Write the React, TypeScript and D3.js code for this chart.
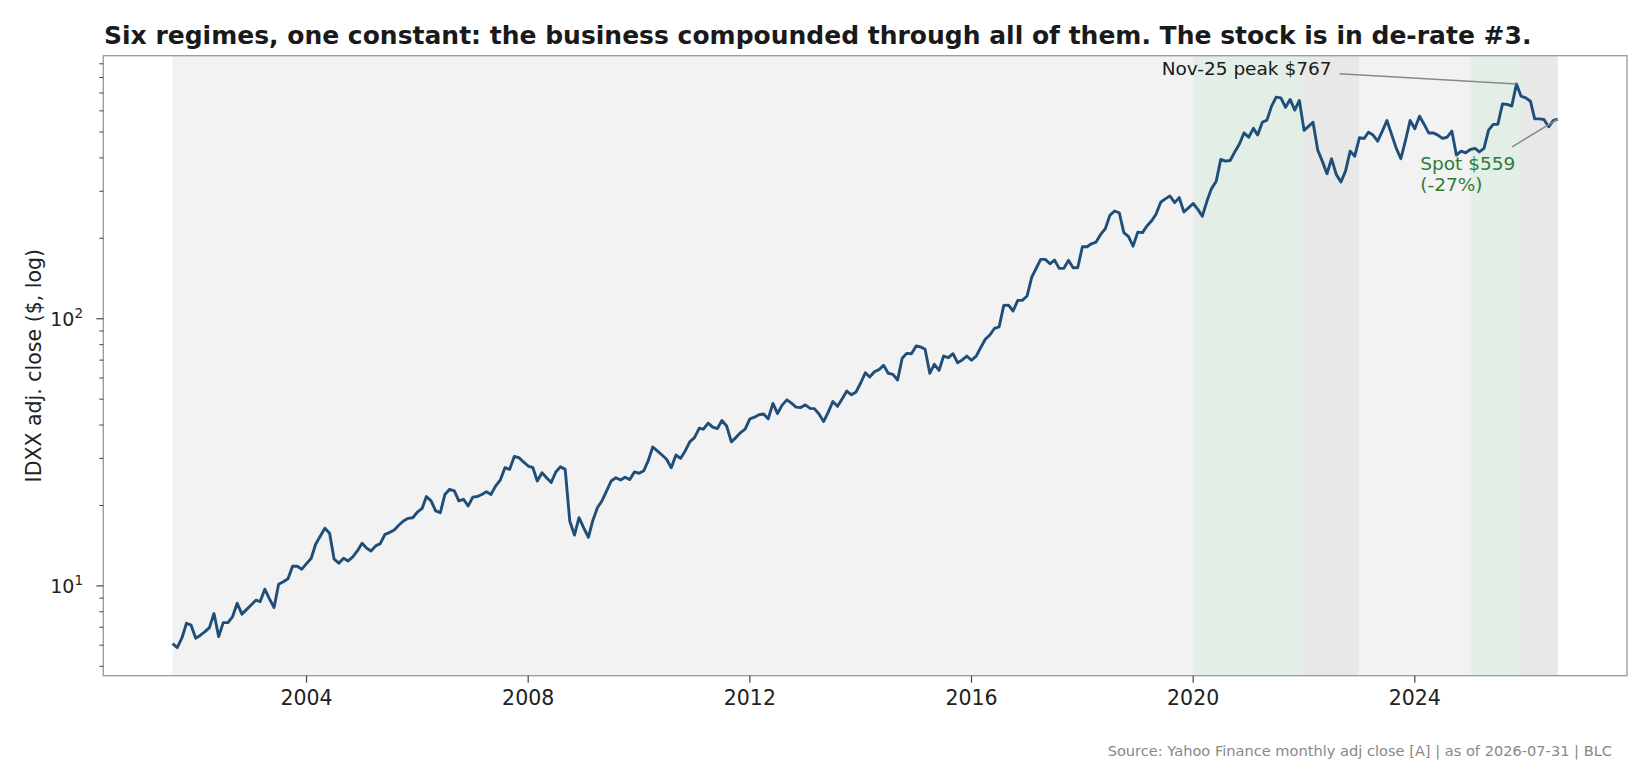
import * as React from "react";
import * as d3 from "d3";

// monthly adj. close, first value is Aug-2001 (month-start index), one per month
const firstMonth = "2001-08-01";
const closes = [
  6.08, 5.88, 6.37, 7.25, 7.13, 6.37, 6.54, 6.73, 6.98, 7.88, 6.46, 7.29,
  7.29, 7.68, 8.61, 7.84, 8.15, 8.49, 8.84, 8.73, 9.72, 8.96, 8.3, 10.15,
  10.37, 10.64, 11.85, 11.85, 11.55, 12.12, 12.69, 14.32, 15.38, 16.43, 15.75, 12.59,
  12.16, 12.69, 12.4, 12.84, 13.52, 14.45, 13.84, 13.52, 14.12, 14.39, 15.6, 15.83,
  16.2, 16.9, 17.5, 17.9, 18.0, 18.9, 19.5, 21.6, 20.8, 19.1, 18.8, 22.0,
  23.0, 22.7, 20.8, 21.1, 19.9, 21.5, 21.6, 22.0, 22.5, 22.0, 23.7, 24.9,
  27.7, 27.3, 30.5, 30.2, 29.1, 28.1, 27.7, 24.7, 26.5, 25.4, 24.4, 26.7,
  27.9, 27.3, 17.5, 15.5, 18.0, 16.5, 15.2, 17.5, 19.6, 20.8, 22.7, 24.7,
  25.4, 24.9, 25.5, 25.0, 26.7, 26.4, 27.0, 29.3, 33.1, 32.0, 30.9, 29.8,
  27.7, 30.9, 30.0, 32.0, 34.6, 35.9, 38.9, 38.6, 40.7, 39.3, 38.8, 41.6,
  39.7, 34.6, 35.9, 37.5, 38.6, 42.2, 42.8, 43.7, 44.0, 42.2, 48.2, 44.2,
  47.5, 49.7, 48.3, 46.7, 46.5, 47.6, 46.2, 46.1, 44.0, 41.2, 44.7, 49.0,
  47.0, 50.2, 53.6, 51.9, 53.2, 57.6, 62.8, 60.5, 63.3, 64.5, 66.9, 62.5,
  61.9, 59.0, 71.1, 74.2, 74.0, 79.1, 78.4, 76.9, 62.5, 67.5, 64.1, 72.5,
  71.5, 74.0, 68.5, 70.1, 72.5, 69.9, 72.5, 77.9, 83.8, 86.9, 92.1, 93.3,
  112.2, 112.5, 106.9, 117.2, 117.2, 121.6, 143.2, 153.9, 166.8, 166.8, 160.6, 165.8,
  154.4, 154.4, 165.4, 155.2, 155.2, 186.0, 186.0, 190.8, 193.6, 206.8, 217.1, 243.7,
  253, 249.3, 210, 203, 187, 211, 210, 222, 232, 246, 273, 281,
  288, 272, 284, 251, 260, 270, 256.6, 242, 275.6, 307, 327, 395,
  389, 391, 421, 451, 496, 478, 516, 487, 544, 554, 625, 675,
  671, 619, 662, 604, 656, 507, 526, 544, 428, 389, 349, 397,
  347, 325, 357, 424, 406, 476, 473, 499, 487, 462, 504, 552,
  490, 434, 397, 466, 552, 514, 573, 536, 496, 496, 487, 473,
  478, 504, 410, 424, 418, 430, 434, 421, 434, 508, 534, 534,
  637, 634, 625, 757, 681, 671, 652, 560, 560, 557, 523, 552,
];
const spotDate = "2026-07-31";
const spotClose = 559;

// six regimes (shaded spans)
const regimeStarts = ["2001-08-01", "2020-01-01", "2022-01-01", "2023-01-01", "2025-01-01", "2025-12-01"];
const regimeEnds = ["2020-01-01", "2022-01-01", "2023-01-01", "2025-01-01", "2025-12-01", "2026-07-31"];
const regimeKinds = ["base", "rerate", "derate", "base", "rerate", "derate"];
const regimeColors: Record<string, string> = { base: "#f2f2f2", rerate: "#e3eee6", derate: "#e8e8e8" };

const xTickYears = [2004, 2008, 2012, 2016, 2020, 2024];
const yMajorTicks = [10, 100];
const yMinorTicks = [5, 6, 7, 8, 9, 20, 30, 40, 50, 60, 70, 80, 90, 200, 300, 400, 500, 600, 700, 800, 900];

const titleText = "Six regimes, one constant: the business compounded through all of them. The stock is in de-rate #3.";
const yLabelText = "IDXX adj. close ($, log)";
const peakLabel = "Nov-25 peak $767";
const peakLabelAt = { date: "2022-07-01", value: 865 };
const spotLines = ["Spot $559", "(-27%)"];
const spotLabelAt = { date: "2024-02-06", value: 380 };
const sourceText = "Source: Yahoo Finance monthly adj close [A] | as of 2026-07-31 | BLC";

const W = 1650;
const H = 780;
const plot = { left: 103.3, right: 1627, top: 55.7, bottom: 675.7 };
const FONT = "'DejaVu Sans', sans-serif";
const TICK_FONT = 20.5;

function exitPoint(cx: number, cy: number, tx: number, ty: number, b: { x: number; y: number; width: number; height: number }) {
  const dx = tx - cx;
  const dy = ty - cy;
  const tX = dx > 0 ? (b.x + b.width - cx) / dx : dx < 0 ? (b.x - cx) / dx : Infinity;
  const tY = dy > 0 ? (b.y + b.height - cy) / dy : dy < 0 ? (b.y - cy) / dy : Infinity;
  const t = Math.min(tX, tY);
  return [cx + dx * t, cy + dy * t];
}

function drawChart(svgEl: SVGSVGElement) {
  const parse = d3.utcParse("%Y-%m-%d");
  const svg = d3.select(svgEl);
  svg.selectAll("*").remove();

  const start = parse(firstMonth) as Date;
  const points = closes.map((v, i) => ({ date: d3.utcMonth.offset(start, i), value: v }));
  points.push({ date: parse(spotDate) as Date, value: spotClose });

  const t0 = +points[0].date;
  const t1 = +points[points.length - 1].date;
  const span = t1 - t0;
  const x = d3
    .scaleUtc()
    .domain([new Date(t0 - 0.05 * span), new Date(t1 + 0.05 * span)])
    .range([plot.left, plot.right]);

  const lo = Math.log10(d3.min(points, (d) => d.value) as number);
  const hi = Math.log10(d3.max(points, (d) => d.value) as number);
  const pad = (hi - lo) * 0.05;
  const y = d3
    .scaleLog()
    .domain([Math.pow(10, lo - pad), Math.pow(10, hi + pad)])
    .range([plot.bottom, plot.top]);

  svg.append("rect").attr("width", W).attr("height", H).attr("fill", "#ffffff");

  // Regime spans
  svg
    .append("g")
    .selectAll("rect")
    .data(regimeStarts.map((s, i) => ({ from: parse(s) as Date, to: parse(regimeEnds[i]) as Date, kind: regimeKinds[i] })))
    .enter()
    .append("rect")
    .attr("x", (d) => x(d.from))
    .attr("width", (d) => x(d.to) - x(d.from))
    .attr("y", plot.top)
    .attr("height", plot.bottom - plot.top)
    .attr("fill", (d) => regimeColors[d.kind]);

  // Price line
  const line = d3
    .line<{ date: Date; value: number }>()
    .x((d) => x(d.date))
    .y((d) => y(d.value));
  svg
    .append("path")
    .datum(points)
    .attr("d", line)
    .attr("fill", "none")
    .attr("stroke", "#1f4e79")
    .attr("stroke-width", 2.9)
    .attr("stroke-linejoin", "round")
    .attr("stroke-linecap", "butt");

  // Frame
  svg
    .append("rect")
    .attr("x", plot.left)
    .attr("y", plot.top)
    .attr("width", plot.right - plot.left)
    .attr("height", plot.bottom - plot.top)
    .attr("fill", "none")
    .attr("stroke", "#999999")
    .attr("stroke-width", 1.3);

  // X axis ticks
  const xt = svg.append("g");
  xTickYears.forEach((yr) => {
    const px = x(new Date(Date.UTC(yr, 0, 1)));
    xt.append("line").attr("x1", px).attr("x2", px).attr("y1", plot.bottom).attr("y2", plot.bottom + 7).attr("stroke", "#444").attr("stroke-width", 1.2);
    xt.append("text")
      .attr("x", px)
      .attr("y", plot.bottom + 22)
      .attr("text-anchor", "middle")
      .attr("dominant-baseline", "central")
      .attr("font-family", FONT)
      .attr("font-size", TICK_FONT)
      .attr("fill", "#222")
      .text(String(yr));
  });

  // Y axis ticks
  const yt = svg.append("g");
  yMinorTicks.forEach((v) => {
    yt.append("line").attr("x1", plot.left - 4).attr("x2", plot.left).attr("y1", y(v)).attr("y2", y(v)).attr("stroke", "#444").attr("stroke-width", 1);
  });
  yMajorTicks.forEach((v) => {
    yt.append("line").attr("x1", plot.left - 7).attr("x2", plot.left).attr("y1", y(v)).attr("y2", y(v)).attr("stroke", "#444").attr("stroke-width", 1.2);
    const t = yt
      .append("text")
      .attr("x", 83)
      .attr("y", y(v) + 7.5)
      .attr("text-anchor", "end")
      .attr("font-family", FONT)
      .attr("font-size", 19)
      .attr("fill", "#222");
    t.append("tspan").text("10");
    t.append("tspan").attr("font-size", 13.5).attr("dy", -8.5).text(String(Math.round(Math.log10(v))));
  });

  // Y label
  svg
    .append("text")
    .attr("transform", `translate(33.7, ${(plot.top + plot.bottom) / 2}) rotate(-90)`)
    .attr("text-anchor", "middle")
    .attr("dominant-baseline", "central")
    .attr("font-family", FONT)
    .attr("font-size", TICK_FONT)
    .attr("fill", "#222")
    .text(yLabelText);

  // Title
  svg
    .append("text")
    .attr("x", 104)
    .attr("y", 35.8)
    .attr("dominant-baseline", "central")
    .attr("font-family", FONT)
    .attr("font-weight", "bold")
    .attr("font-size", 25)
    .attr("fill", "#1a1a1a")
    .text(titleText);

  // Peak annotation
  const peakIdx = d3.maxIndex(points, (d) => d.value);
  const peak = points[peakIdx];
  const peakText = svg
    .append("text")
    .attr("x", x(parse(peakLabelAt.date) as Date))
    .attr("y", y(peakLabelAt.value))
    .attr("text-anchor", "end")
    .attr("dominant-baseline", "central")
    .attr("font-family", FONT)
    .attr("font-size", 18.5)
    .attr("fill", "#1a1a1a")
    .text(peakLabel);
  const pb = (peakText.node() as SVGTextElement).getBBox();
  const pbox = { x: pb.x - 8, y: pb.y - 4, width: pb.width + 16, height: pb.height + 8 };
  const [psx, psy] = exitPoint(pb.x + pb.width / 2, pb.y + pb.height / 2, x(peak.date), y(peak.value), pbox);
  svg
    .append("line")
    .attr("x1", psx)
    .attr("y1", psy)
    .attr("x2", x(peak.date))
    .attr("y2", y(peak.value))
    .attr("stroke", "#888")
    .attr("stroke-width", 1.5);

  // Spot annotation
  const last = points[points.length - 1];
  const spotText = svg
    .append("text")
    .attr("font-family", FONT)
    .attr("font-size", 18.5)
    .attr("fill", "#2e7d32");
  spotLines.forEach((s, i) => {
    spotText
      .append("tspan")
      .attr("x", x(parse(spotLabelAt.date) as Date))
      .attr("y", y(spotLabelAt.value) + 6 + i * 21.3)
      .text(s);
  });
  const sb = (spotText.node() as SVGTextElement).getBBox();
  const sbox = { x: sb.x - 8, y: sb.y - 6, width: sb.width + 16, height: sb.height + 12 };
  const [ssx, ssy] = exitPoint(sb.x + sb.width / 2, sb.y + sb.height / 2, x(last.date), y(last.value), sbox);
  svg
    .append("line")
    .attr("x1", ssx)
    .attr("y1", ssy)
    .attr("x2", x(last.date))
    .attr("y2", y(last.value))
    .attr("stroke", "#888")
    .attr("stroke-width", 1.5);

  // Source
  svg
    .append("text")
    .attr("x", 1612)
    .attr("y", 750)
    .attr("text-anchor", "end")
    .attr("dominant-baseline", "central")
    .attr("font-family", FONT)
    .attr("font-size", 14.6)
    .attr("fill", "#888")
    .text(sourceText);
}

const App: React.FunctionComponent = () => {
  const svg = React.useRef<SVGSVGElement>(null);
  React.useEffect(() => {
    if (svg.current) drawChart(svg.current);
  }, []);

  return (
    <div style={{ position: "absolute", left: 0, top: 0 }}>
      <svg ref={svg} width={W} height={H} style={{ display: "block" }} />
    </div>
  );
};

export default App;
